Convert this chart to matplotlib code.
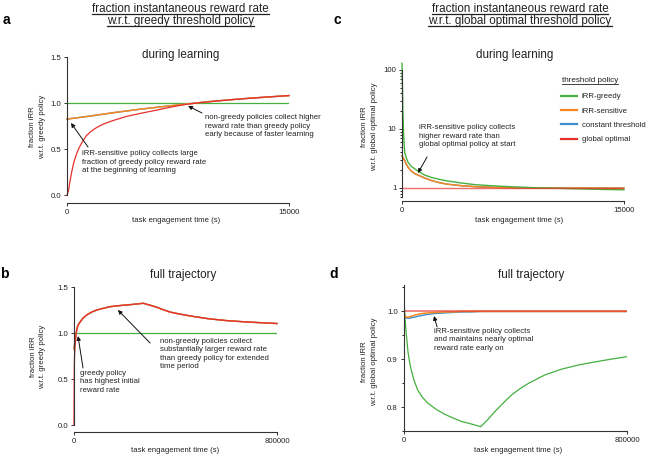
import matplotlib
matplotlib.use('Agg')
import matplotlib.pyplot as plt
from matplotlib.lines import Line2D
from matplotlib.ticker import FixedLocator, LogLocator, NullFormatter

plt.rcParams['font.family'] = ['Liberation Sans', 'DejaVu Sans']

W, H = 651, 454

# threshold policies
policy_names = ['iRR-greedy', 'iRR-sensitive', 'constant threshold', 'global optimal']
policy_colors = ['#45b03f', '#f7871f', '#3d8fcf', '#e6302b']

# a: during learning, fraction iRR w.r.t. greedy policy
t_a = [0, 100, 200, 300, 450, 600, 800, 1000, 1300, 1600, 2000, 2500, 3000, 4000,
       5000, 6000, 7000, 8000, 9000, 10000, 11000, 12000, 13000, 14000, 15000]
optimal_a = [0.0, 0.05, 0.15, 0.24, 0.35, 0.43, 0.51, 0.57, 0.645, 0.69, 0.735, 0.775,
             0.805, 0.855, 0.89, 0.922, 0.956, 0.985, 1.005, 1.021, 1.035, 1.048, 1.06,
             1.071, 1.082]
sensitive_a = [0.826, 0.828, 0.831, 0.833, 0.836, 0.839, 0.843, 0.848, 0.854, 0.86, 0.87,
               0.881, 0.893, 0.914, 0.935, 0.953, 0.971, 0.989, 1.006, 1.022, 1.036,
               1.049, 1.06, 1.071, 1.081]
constant_a = [0.826, 0.828, 0.831, 0.833, 0.836, 0.839, 0.843, 0.848, 0.854, 0.86, 0.87,
              0.881, 0.893, 0.914, 0.935, 0.953, 0.971, 0.989, 1.006, 1.022, 1.036,
              1.049, 1.06, 1.071, 1.081]
t_greedy_a = [0, 15000]
greedy_a = [1.0, 1.0]

# b: full trajectory, fraction iRR w.r.t. greedy policy
t_b = [0, 1000, 2000, 4000, 8000, 12000, 16000, 24000, 35000, 50000, 70000, 90000,
       115000, 142000, 180000, 221000, 250000, 273000, 300000, 326000, 350000, 378000,
       418000, 470000, 530000, 600000, 680000, 750000, 800000]
optimal_b = [0.0, 0.57, 0.735, 0.855, 0.985, 1.05, 1.085, 1.12, 1.16, 1.196, 1.228, 1.25,
             1.268, 1.286, 1.298, 1.308, 1.316, 1.323, 1.302, 1.28, 1.255, 1.228, 1.205,
             1.18, 1.155, 1.135, 1.12, 1.11, 1.103]
sensitive_b = [0.826, 0.848, 0.87, 0.914, 0.989, 1.05, 1.085, 1.12, 1.16, 1.196, 1.228,
               1.25, 1.268, 1.286, 1.298, 1.308, 1.316, 1.323, 1.302, 1.28, 1.255, 1.228,
               1.205, 1.18, 1.155, 1.135, 1.12, 1.11, 1.103]
constant_b = [0.826, 0.848, 0.87, 0.914, 0.989, 1.05, 1.085, 1.12, 1.16, 1.196, 1.228,
              1.25, 1.268, 1.286, 1.298, 1.308, 1.316, 1.323, 1.302, 1.28, 1.255, 1.228,
              1.205, 1.18, 1.155, 1.135, 1.12, 1.11, 1.103]
t_greedy_b = [0, 800000]
greedy_b = [1.0, 1.0]

# c: during learning, fraction iRR w.r.t. global optimal policy
t_c = [0, 60, 120, 183, 300, 406, 600, 854, 1200, 1530, 2000, 2500, 3000, 4000, 5000,
       6500, 8000, 9000, 10000, 12000, 15000]
greedy_c = [130, 20, 7.0, 4.0, 3.2, 2.73, 2.35, 2.11, 1.85, 1.65, 1.5, 1.4, 1.32, 1.21,
            1.13, 1.07, 1.03, 1.005, 0.99, 0.96, 0.925]
sensitive_c = [3.5, 3.3, 3.1, 2.9, 2.5, 2.25, 1.95, 1.75, 1.6, 1.47, 1.33, 1.23, 1.16,
               1.09, 1.045, 1.015, 1.0, 0.997, 0.995, 0.993, 0.99]
constant_c = [3.5, 3.3, 3.1, 2.9, 2.5, 2.25, 1.95, 1.75, 1.6, 1.47, 1.33, 1.23, 1.16,
              1.09, 1.045, 1.015, 1.0, 0.997, 0.995, 0.993, 0.99]
t_optimal_c = [0, 15000]
optimal_c = [1.0, 1.0]

# d: full trajectory, fraction iRR w.r.t. global optimal policy
t_d = [0, 4000, 8000, 12000, 16000, 22000, 28000, 38000, 51000, 68000, 87000, 117000,
       147000, 177000, 207000, 240000, 276000, 300000, 326000, 356000, 386000, 416000,
       446000, 506000, 566000, 625000, 685000, 745000, 800000]
greedy_d = [1.05, 1.0, 0.965, 0.94, 0.915, 0.893, 0.876, 0.855, 0.835, 0.82, 0.808,
            0.795, 0.785, 0.777, 0.77, 0.765, 0.759, 0.773, 0.79, 0.808, 0.825, 0.838,
            0.849, 0.867, 0.879, 0.8875, 0.894, 0.9, 0.905]
sensitive_d = [1.0, 0.992, 0.988, 0.987, 0.987, 0.988, 0.989, 0.991, 0.993, 0.995, 0.996,
               0.997, 0.998, 0.998, 0.999, 0.999, 0.999, 0.999, 0.999, 0.999, 0.999,
               0.999, 0.999, 0.999, 0.999, 0.999, 0.999, 0.999, 0.999]
constant_d = [1.0, 0.991, 0.986, 0.985, 0.985, 0.985, 0.986, 0.987, 0.989, 0.991, 0.993,
              0.995, 0.996, 0.997, 0.998, 0.998, 0.999, 0.999, 0.999, 0.999, 0.999,
              0.999, 0.999, 0.999, 0.999, 0.999, 0.999, 0.999, 0.999]
t_optimal_d = [0, 800000]
optimal_d = [1.0, 1.0]

green, orange, blue, red = policy_colors
SMALL = 5.6
TXT = '#222222'


def px_rect(l, t, r, b):
    return [l / W, 1 - b / H, (r - l) / W, (b - t) / H]


def fx(x):
    return x / W


def fy(y):
    return 1 - y / H


def style_axes(ax, offset_px):
    for s in ['top', 'right']:
        ax.spines[s].set_visible(False)
    for s in ['left', 'bottom']:
        ax.spines[s].set_linewidth(0.8)
        ax.spines[s].set_color('#333333')
    ax.spines['bottom'].set_position(('outward', offset_px * 0.72))
    ax.tick_params(labelsize=SMALL, length=2.5, width=0.7, pad=1.5,
                   colors='#333333', labelcolor=TXT)
    ax.tick_params(which='minor', length=1.5, width=0.6)


def note(ax, x, y, s):
    ax.text(x, y, s, fontsize=SMALL, ha='left', va='top', linespacing=1.3, color=TXT)


def arrow(ax, head, tail):
    ax.annotate('', xy=head, xytext=tail, annotation_clip=False,
                arrowprops=dict(arrowstyle='-|>', color='#111111', lw=0.7,
                                mutation_scale=6, shrinkA=0, shrinkB=0))


fig = plt.figure(figsize=(W / 100, H / 100), dpi=100)

# ---- panel a
ax_a = fig.add_axes(px_rect(67, 57, 289, 195.3))
ax_a.plot(t_greedy_a, greedy_a, color=green, lw=0.9)
ax_a.plot(t_a, constant_a, color=blue, lw=1.0, clip_on=False)
ax_a.plot(t_a, sensitive_a, color=orange, lw=1.1, clip_on=False)
ax_a.plot(t_a, optimal_a, color=red, lw=0.9, clip_on=False)
ax_a.set_xlim(0, 15000)
ax_a.set_ylim(0, 1.5)
ax_a.set_xticks([0, 15000])
ax_a.set_yticks([0, 0.5, 1.0, 1.5])
ax_a.set_yticklabels(['0.0', '0.5', '1.0', '1.5'])
style_axes(ax_a, 8)
note(ax_a, 9330, 0.881, 'non-greedy policies collect higher\nreward rate than greedy policy\n'
     'early because of faster learning')
arrow(ax_a, (8180, 0.969), (9120, 0.893))
note(ax_a, 1014, 0.491, 'iRR-sensitive policy collects large\n'
     'fraction of greedy policy reward rate\nat the beginning of learning')
arrow(ax_a, (270, 0.784), (1420, 0.524))

# ---- panel b
ax_b = fig.add_axes(px_rect(74, 287, 277, 425))
ax_b.plot(t_greedy_b, greedy_b, color=green, lw=0.9)
ax_b.plot(t_b, constant_b, color=blue, lw=1.0, clip_on=False)
ax_b.plot(t_b, sensitive_b, color=orange, lw=1.1, clip_on=False)
ax_b.plot(t_b, optimal_b, color=red, lw=0.9, clip_on=False)
ax_b.set_xlim(0, 800000)
ax_b.set_ylim(0, 1.5)
ax_b.set_xticks([0, 800000])
ax_b.set_xticklabels(['0', '800000'])
ax_b.set_yticks([0, 0.5, 1.0, 1.5])
ax_b.set_yticklabels(['0.0', '0.5', '1.0', '1.5'])
style_axes(ax_b, 7)
note(ax_b, 23600, 0.598, 'greedy policy\nhas highest initial\nreward rate')
arrow(ax_b, (15800, 0.967), (35500, 0.62))
note(ax_b, 339000, 0.946, 'non-greedy policies collect\nsubstantially larger reward rate\n'
     'than greedy policy for extended\ntime period')
arrow(ax_b, (173000, 1.25), (300000, 0.891))

# ---- panel c
ax_c = fig.add_axes(px_rect(402, 70, 624, 197))
ax_c.set_yscale('log')
ax_c.plot(t_c, constant_c, color=blue, lw=1.0, clip_on=False)
ax_c.plot(t_c, sensitive_c, color=orange, lw=1.1, clip_on=False)
ax_c.plot(t_c, greedy_c, color=green, lw=1.0, clip_on=False)
ax_c.plot(t_optimal_c, optimal_c, color=red, lw=1.0, alpha=0.7)
ax_c.set_xlim(0, 15000)
ax_c.set_ylim(0.7, 100)
ax_c.set_xticks([0, 15000])
ax_c.yaxis.set_major_locator(FixedLocator([1, 10, 100]))
ax_c.set_yticklabels(['1', '10', '100'])
ax_c.yaxis.set_minor_locator(LogLocator(base=10, subs=range(2, 10)))
ax_c.yaxis.set_minor_formatter(NullFormatter())
style_axes(ax_c, 4)
note(ax_c, 1150, 12.0, 'iRR-sensitive policy collects\nhigher reward rate than\n'
     'global optimal policy at start')
arrow(ax_c, (1080, 1.79), (1690, 3.33))

handles = [Line2D([], [], color=c, lw=1.6) for c in policy_colors]
leg = ax_c.legend(handles, policy_names, frameon=False,
                  loc='upper left', bbox_to_anchor=(fx(561), fy(93)),
                  bbox_transform=fig.transFigure, fontsize=SMALL,
                  handlelength=2.05, handletextpad=0.65, labelspacing=0.88,
                  borderpad=0, borderaxespad=0)
for t in leg.get_texts():
    t.set_color(TXT)
leg_title = fig.text(fx(562), fy(81), 'threshold policy', ha='left', va='center',
                     fontsize=5.9, color=TXT)

# ---- panel d
ax_d = fig.add_axes(px_rect(403.5, 284.6, 627.3, 431))
ax_d.plot(t_d, greedy_d, color=green, lw=0.9)
ax_d.plot(t_d, constant_d, color=blue, lw=1.0)
ax_d.plot(t_d, sensitive_d, color=orange, lw=1.1)
ax_d.plot(t_optimal_d, optimal_d, color=red, lw=1.1, alpha=0.75)
ax_d.set_xlim(0, 800000)
ax_d.set_ylim(0.75, 1.055)
ax_d.set_xticks([0, 800000])
ax_d.set_xticklabels(['0', '800000'])
ax_d.yaxis.set_major_locator(FixedLocator([0.8, 0.9, 1.0]))
ax_d.set_yticklabels(['0.8', '0.9', '1.0'])
ax_d.yaxis.set_minor_locator(FixedLocator([0.75, 0.85, 0.95, 1.05]))
style_axes(ax_d, 0)
note(ax_d, 109000, 0.9646, 'iRR-sensitive policy collects\nand maintains nearly optimal\n'
     'reward rate early on')
arrow(ax_d, (109000, 0.9896), (120000, 0.9667))

# ---- shared figure texts
headers = []
for cx, second in [(180.5, 'w.r.t. greedy threshold policy'),
                   (520, 'w.r.t. global optimal threshold policy')]:
    headers.append(fig.text(fx(cx), fy(11.7), 'fraction instantaneous reward rate',
                            ha='center', va='baseline', fontsize=8.4, color=TXT))
    headers.append(fig.text(fx(cx), fy(24), second,
                            ha='center', va='baseline', fontsize=8.4, color=TXT))

for x, y, s in [(6.5, 20, 'a'), (4.5, 274, 'b'), (337, 20, 'c'), (334, 274, 'd')]:
    fig.text(fx(x), fy(y), s, ha='center', va='center', fontsize=10, fontweight='bold')

for x, y, s in [(181, 55, 'during learning'), (515, 55, 'during learning'),
                (183, 275, 'full trajectory'), (531.5, 275, 'full trajectory')]:
    fig.text(fx(x), fy(y), s, ha='center', va='center', fontsize=8.4, color=TXT)

for x, y in [(176, 220), (519, 220), (175, 450), (518, 450)]:
    fig.text(fx(x), fy(y), 'task engagement time (s)', ha='center', va='center',
             fontsize=SMALL, color=TXT)

for x, y, s in [(37.4, 127, 'fraction iRR\nw.r.t. greedy policy'),
                (37.8, 357, 'fraction iRR\nw.r.t. greedy policy'),
                (369.5, 127, 'fraction iRR\nw.r.t. global optimal policy'),
                (369.5, 362, 'fraction iRR\nw.r.t. global optimal policy')]:
    fig.text(fx(x), fy(y), s, ha='center', va='center', rotation=90, fontsize=SMALL,
             linespacing=1.45, color=TXT)

# underlines for the headers and the legend title
fig.canvas.draw()
inv = fig.transFigure.inverted()
for t in headers + [leg_title]:
    bb = t.get_window_extent()
    (x0, y0), (x1, _) = inv.transform([(bb.x0, bb.y0), (bb.x1, bb.y1)])
    lw = 0.9 if t in headers else 0.6
    fig.add_artist(Line2D([x0, x1], [y0 + 0.002, y0 + 0.002], color=TXT, lw=lw))

fig.savefig('out.png', dpi=100)
